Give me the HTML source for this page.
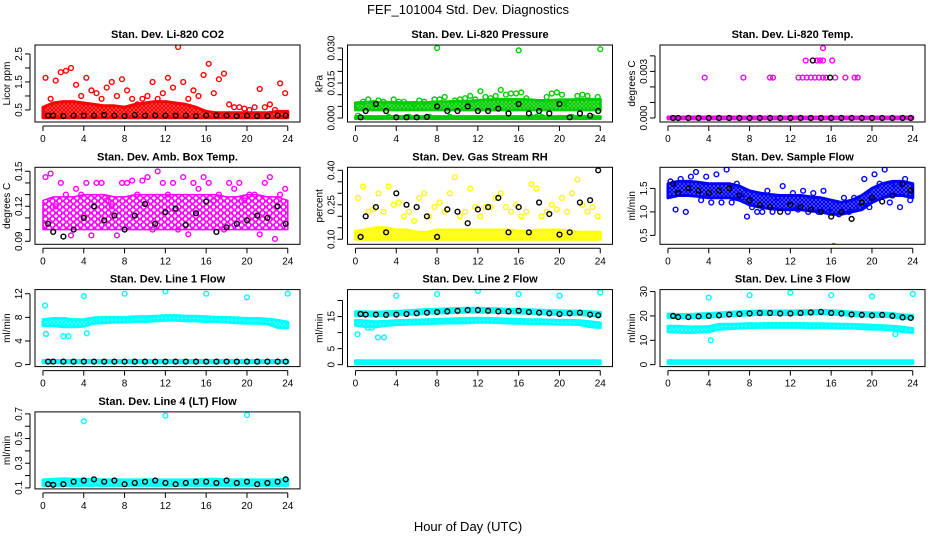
<!DOCTYPE html>
<html><head><meta charset="utf-8"><style>
html,body{margin:0;padding:0;background:#fff}
svg{display:block;font-family:"Liberation Sans",sans-serif}
</style></head><body>
<svg id="c" width="936" height="540" viewBox="0 0 936 540">
<text x="468" y="14" text-anchor="middle" font-size="13">FEF_101004  Std. Dev. Diagnostics</text>
<text x="468" y="531" text-anchor="middle" font-size="13">Hour of Day (UTC)</text>
</svg>
<script>
const hours25=[0,1,2,3,4,5,6,7,8,9,10,11,12,13,14,15,16,17,18,19,20,21,22,23,24];
const halfHours=[0.25,0.75,1.25,1.75,2.25,2.75,3.25,3.75,4.25,4.75,5.25,5.75,6.25,6.75,7.25,7.75,8.25,8.75,9.25,9.75,10.25,10.75,11.25,11.75,12.25,12.75,13.25,13.75,14.25,14.75,15.25,15.75,16.25,16.75,17.25,17.75,18.25,18.75,19.25,19.75,20.25,20.75,21.25,21.75,22.25,22.75,23.25,23.75];
const blackX=[0.5,1,2,3,4,5,6,7,8,9,10,11,12,13,14,15,16,17,18,19,20,21,22,23,23.8];
const xTicks=[0,4,8,12,16,20,24];

// CO2
const co2BandLo=[0.22,0.22,0.22,0.22,0.22,0.22,0.22,0.22,0.22,0.22,0.22,0.22,0.22,0.22,0.22,0.22,0.22,0.22,0.22,0.22,0.22,0.22,0.22,0.22,0.22];
const co2BandHi=[0.6,0.75,0.8,0.8,0.75,0.7,0.65,0.65,0.6,0.7,0.75,0.8,0.8,0.75,0.7,0.6,0.45,0.4,0.4,0.4,0.4,0.4,0.4,0.45,0.45];
const co2Scatter=[1.65,0.9,1.55,1.85,1.9,2.0,1.4,1.0,1.65,1.2,1.1,0.9,1.3,1.5,1.0,1.6,1.2,0.9,0.7,0.9,1.0,1.5,0.9,1.1,1.65,1.3,2.75,1.5,0.9,1.2,1.0,1.75,2.15,1.1,1.6,1.8,0.7,0.6,0.6,0.55,0.5,0.6,1.25,0.6,0.7,0.5,1.45,1.1];
const co2Black=[0.3,0.3,0.28,0.3,0.3,0.3,0.32,0.3,0.28,0.32,0.3,0.31,0.3,0.3,0.3,0.28,0.3,0.31,0.3,0.28,0.3,0.28,0.28,0.3,0.3];
// Pressure
const presBandLo=[0.0035,0.0035,0.0035,0.0035,0.0035,0.0035,0.0035,0.0035,0.0035,0.0035,0.0035,0.0035,0.0035,0.0035,0.0035,0.0035,0.0035,0.0035,0.0035,0.0035,0.0035,0.0035,0.0035,0.0035,0.0035];
const presBandHi=[0.0065,0.0068,0.0068,0.0068,0.0066,0.0066,0.0066,0.0066,0.007,0.007,0.0072,0.0072,0.0075,0.0078,0.008,0.008,0.008,0.0078,0.0075,0.0075,0.0078,0.0078,0.008,0.008,0.008];
const presZeroLo=[-0.0002,-0.0002,-0.0002,-0.0002,-0.0002,-0.0002,-0.0002,-0.0002,-0.0002,-0.0002,-0.0002,-0.0002,-0.0002,-0.0002,-0.0002,-0.0002,-0.0002,-0.0002,-0.0002,-0.0002,-0.0002,-0.0002,-0.0002,-0.0002,-0.0002];
const presZeroHi=[0.0006,0.0006,0.0006,0.0006,0.0006,0.0006,0.0006,0.0006,0.0006,0.0006,0.0006,0.0006,0.0006,0.0006,0.0006,0.0006,0.0006,0.0006,0.0006,0.0006,0.0006,0.0006,0.0006,0.0006,0.0006];
const presScatter=[0.001,0.007,0.008,0.0065,0.0075,0.007,0.0005,0.008,0.007,0.007,0.0005,0.006,0.0075,0.007,0.0005,0.008,0.008,0.009,0.0005,0.0075,0.008,0.0085,0.0095,0.008,0.0115,0.009,0.0085,0.0095,0.012,0.010,0.0105,0.0105,0.011,0.0085,0.0005,0.0005,0.0005,0.009,0.0105,0.011,0.010,0.006,0.0005,0.0095,0.010,0.0095,0.0005,0.009];
const presBlack=[0.0003,0.003,0.006,0.003,0.0003,0.0003,0.0003,0.0005,0.005,0.003,0.003,0.005,0.003,0.003,0.004,0.002,0.006,0.002,0.003,0.002,0.006,0.0003,0.002,0.001,0.003];
const presOutX=[8,16,24];
const presOutY=[0.030,0.029,0.0295];
// Li-820 temp
const tempZeroLo=[-0.00006,-0.00006,-0.00006,-0.00006,-0.00006,-0.00006,-0.00006,-0.00006,-0.00006,-0.00006,-0.00006,-0.00006,-0.00006,-0.00006,-0.00006,-0.00006,-0.00006,-0.00006,-0.00006,-0.00006,-0.00006,-0.00006,-0.00006,-0.00006,-0.00006];
const tempZeroHi=[0.00006,0.00006,0.00006,0.00006,0.00006,0.00006,0.00006,0.00006,0.00006,0.00006,0.00006,0.00006,0.00006,0.00006,0.00006,0.00006,0.00006,0.00006,0.00006,0.00006,0.00006,0.00006,0.00006,0.00006,0.00006];
const tempOutX=[3.6,7.4,10,10.3,12.8,13.2,13.6,14,14.4,14.8,15.2,15.5,16.4,17.4,18.3,18.6,13.5,14.6,14.9,15.2,16.1,15.2];
const tempOutY=[0.0026,0.0026,0.0026,0.0026,0.0026,0.0026,0.0026,0.0026,0.0026,0.0026,0.0026,0.0026,0.0026,0.0026,0.0026,0.0026,0.0037,0.0037,0.0037,0.0037,0.0037,0.0045];
const tempBlack=[0,0,0,0,0,0,0,0,0,0,0,0,0,0,0,0,0,0,0,0,0,0,0,0,0];
const tempBlackExtraX=[14.2,15.9];
const tempBlackExtraY=[0.0037,0.0026];
// Amb box temp
const ambBandLo=[0.1,0.1,0.1,0.1,0.1,0.1,0.1,0.1,0.1,0.1,0.1,0.1,0.1,0.1,0.1,0.1,0.1,0.1,0.1,0.1,0.1,0.1,0.1,0.1,0.1];
const ambBandHi=[0.125,0.128,0.128,0.128,0.13,0.13,0.13,0.128,0.128,0.13,0.13,0.13,0.13,0.13,0.13,0.13,0.13,0.13,0.128,0.128,0.13,0.13,0.128,0.128,0.125];
const ambScatter=[0.145,0.148,0.12,0.14,0.13,0.095,0.135,0.13,0.14,0.095,0.14,0.14,0.125,0.12,0.095,0.14,0.14,0.142,0.13,0.142,0.145,0.1,0.15,0.14,0.13,0.14,0.1,0.145,0.096,0.14,0.135,0.145,0.14,0.125,0.13,0.1,0.14,0.135,0.14,0.125,0.13,0.13,0.096,0.14,0.145,0.092,0.13,0.135];
const ambBlack=[0.105,0.098,0.094,0.1,0.11,0.12,0.108,0.112,0.1,0.112,0.122,0.105,0.115,0.118,0.104,0.114,0.124,0.098,0.102,0.105,0.108,0.112,0.11,0.12,0.105];
// RH
const rhBandLo=[0.1,0.1,0.1,0.1,0.1,0.1,0.1,0.1,0.1,0.1,0.1,0.1,0.1,0.1,0.1,0.1,0.1,0.1,0.1,0.1,0.1,0.1,0.1,0.1,0.1];
const rhBandHi=[0.135,0.14,0.15,0.15,0.14,0.14,0.13,0.13,0.14,0.14,0.14,0.14,0.14,0.14,0.14,0.14,0.135,0.135,0.14,0.14,0.14,0.135,0.13,0.13,0.13];
const rhScatter=[0.28,0.33,0.22,0.23,0.3,0.22,0.33,0.25,0.26,0.2,0.22,0.18,0.28,0.3,0.2,0.24,0.26,0.22,0.3,0.37,0.2,0.22,0.32,0.24,0.2,0.24,0.24,0.28,0.3,0.24,0.22,0.25,0.2,0.22,0.34,0.32,0.2,0.22,0.25,0.23,0.28,0.22,0.3,0.36,0.25,0.22,0.24,0.2];
const rhBlack=[0.11,0.2,0.24,0.13,0.3,0.25,0.24,0.2,0.11,0.23,0.22,0.17,0.23,0.24,0.28,0.13,0.24,0.13,0.26,0.21,0.12,0.13,0.26,0.27,0.4];
// Sample flow
const flowBandLo=[1.3,1.35,1.35,1.33,1.3,1.3,1.3,1.25,1.15,1.1,1.07,1.05,1.05,1.05,1.02,1.0,0.95,0.95,1.0,1.05,1.2,1.3,1.35,1.35,1.3];
const flowBandHi=[1.6,1.65,1.65,1.63,1.6,1.6,1.6,1.55,1.45,1.4,1.37,1.35,1.35,1.35,1.32,1.3,1.25,1.2,1.25,1.35,1.5,1.6,1.65,1.65,1.6];
const flowScatter=[1.65,1.05,1.7,1.0,1.75,1.85,1.25,1.75,1.2,1.8,1.2,1.9,1.2,1.6,1.3,0.9,1.1,1.0,1.0,1.45,1.0,1.3,1.55,1.0,1.4,1.05,1.45,1.0,1.4,1.0,1.45,1.0,0.27,0.95,1.3,1.0,1.3,1.1,1.7,1.1,1.8,1.6,1.9,1.2,1.6,1.1,1.7,1.25];
const flowBlack=[1.6,1.4,1.5,1.45,1.4,1.45,1.5,1.35,1.25,1.15,1.1,1.0,1.15,1.1,1.05,1.0,0.9,1.0,0.85,1.2,1.3,1.22,1.35,1.6,1.45];
// Line 1
const l1BandLo=[6.6,6.6,6.4,6.4,6.5,7.0,7.1,7.2,7.2,7.3,7.3,7.4,7.5,7.5,7.4,7.4,7.3,7.3,7.2,7.1,7.0,7.0,6.9,6.3,6.2];
const l1BandHi=[7.6,7.8,7.8,7.6,7.6,7.9,8.0,8.0,8.0,8.1,8.1,8.2,8.3,8.3,8.2,8.2,8.1,8.0,8.0,7.9,7.8,7.8,7.7,7.5,7.2];
const l1ZeroLo=[0.3,0.3,0.3,0.3,0.3,0.3,0.3,0.3,0.3,0.3,0.3,0.3,0.3,0.3,0.3,0.3,0.3,0.3,0.3,0.3,0.3,0.3,0.3,0.3,0.3];
const l1ZeroHi=[0.7,0.7,0.7,0.7,0.7,0.7,0.7,0.7,0.7,0.7,0.7,0.7,0.7,0.7,0.7,0.7,0.7,0.7,0.7,0.7,0.7,0.7,0.7,0.7,0.7];
const l1OutX=[0.2,4,8,12,16,20,24,0.3,2,2.5,4.3];
const l1OutY=[10,11.6,12,12.4,12,11.4,12,5.2,4.8,4.8,5.3];
const l1Black=[0.5,0.5,0.5,0.5,0.5,0.5,0.5,0.5,0.5,0.5,0.5,0.5,0.5,0.5,0.5,0.5,0.5,0.5,0.5,0.5,0.5,0.5,0.5,0.5,0.5];
// Line 2
const l2TopLo=[15.3,15.3,15.3,15.4,15.5,15.6,15.8,16,16.1,16.2,16.3,16.4,16.4,16.4,16.3,16.2,16.1,16,15.9,15.8,15.6,15.6,15.6,15.4,15.2];
const l2TopHi=[16.5,16.5,16.4,16.5,16.6,16.8,17,17.2,17.3,17.4,17.5,17.6,17.6,17.5,17.4,17.3,17.3,17.1,17,16.9,16.8,16.7,16.7,16.5,16.3];
const l2MidLo=[12.3,11.8,11.8,12.2,12.5,12.6,12.7,12.8,12.9,13,13,13.1,13.2,13.2,13.1,13,12.9,12.8,12.8,12.7,12.6,12.6,12.5,11.8,11.6];
const l2MidHi=[13.8,13.6,13.4,13.5,13.7,13.8,13.9,14,14.1,14.2,14.3,14.4,14.5,14.4,14.3,14.2,14.1,14,14,13.9,13.8,13.8,13.7,13.4,13];
const l2ZeroLo=[0.3,0.3,0.3,0.3,0.3,0.3,0.3,0.3,0.3,0.3,0.3,0.3,0.3,0.3,0.3,0.3,0.3,0.3,0.3,0.3,0.3,0.3,0.3,0.3,0.3];
const l2ZeroHi=[1.2,1.2,1.2,1.2,1.2,1.2,1.2,1.2,1.2,1.2,1.2,1.2,1.2,1.2,1.2,1.2,1.2,1.2,1.2,1.2,1.2,1.2,1.2,1.2,1.2];
const l2OutX=[4,8,12,16,20,24,0.2,1.2,1.6,2.2,2.8];
const l2OutY=[21.5,22,23,22,21.5,22.5,9.5,11.5,11.5,8.5,8.5];
const l2Black=[15.8,15.6,15.6,15.5,15.6,15.8,16,16.2,16.4,16.6,16.8,17,17,16.8,16.6,16.6,16.8,16.4,16.2,16,15.8,16,16.2,15.6,15.4];
// Line 3
const l3TopLo=[19.3,19.2,19.2,19.3,19.5,19.7,20,20.2,20.4,20.6,20.6,20.6,20.6,20.7,20.8,20.9,20.7,20.5,20.2,20,19.8,19.8,19.6,19,18.8];
const l3TopHi=[20.8,20.6,20.6,20.8,21,21.2,21.5,21.7,21.9,22,22,22,22,22.1,22.2,22.3,22.1,21.9,21.6,21.4,21.2,21.2,21,20.4,20.2];
const l3MidLo=[13.5,13.3,13.2,13.3,13.5,14.5,14.8,15,15.2,15.3,15.3,15.3,15.3,15.3,15.2,15.2,15.1,15,15,14.8,14.6,14.5,14.2,13.6,13.2];
const l3MidHi=[15.8,15.8,15.5,15.5,15.6,16.5,16.6,16.7,16.8,16.8,16.9,16.9,16.9,16.9,16.8,16.8,16.7,16.6,16.5,16.4,16.2,16,15.8,15.4,14.8];
const l3ZeroLo=[0.5,0.5,0.5,0.5,0.5,0.5,0.5,0.5,0.5,0.5,0.5,0.5,0.5,0.5,0.5,0.5,0.5,0.5,0.5,0.5,0.5,0.5,0.5,0.5,0.5];
const l3ZeroHi=[1.6,1.6,1.6,1.6,1.6,1.6,1.6,1.6,1.6,1.6,1.6,1.6,1.6,1.6,1.6,1.6,1.6,1.6,1.6,1.6,1.6,1.6,1.6,1.6,1.6];
const l3OutX=[4,8,12,16,20,24,4.2,22.3];
const l3OutY=[27.5,28.5,29.5,28.5,28,29,10,12.5];
const l3Black=[20,19.5,19.5,19.8,20,20.2,20.6,20.8,21,21.2,21.2,21,21,21.2,21.4,21.6,21.2,21,20.6,20.4,20.2,20.4,20,19.4,19.2];
// Line 4
const l4BandLo=[0.12,0.12,0.12,0.12,0.12,0.12,0.12,0.12,0.12,0.12,0.12,0.12,0.12,0.12,0.12,0.12,0.12,0.12,0.12,0.12,0.12,0.12,0.12,0.12,0.12];
const l4BandHi=[0.165,0.17,0.175,0.17,0.17,0.17,0.165,0.165,0.165,0.165,0.165,0.165,0.165,0.165,0.165,0.165,0.17,0.17,0.165,0.165,0.165,0.165,0.165,0.165,0.17];
const l4OutX=[4,12,20];
const l4OutY=[0.64,0.685,0.69];
const l4Black=[0.13,0.125,0.13,0.15,0.16,0.17,0.15,0.16,0.13,0.14,0.15,0.16,0.14,0.13,0.14,0.15,0.15,0.14,0.16,0.14,0.15,0.13,0.14,0.15,0.17];

const RED='#ff0000',GRN='#00cd00',MAG='#ff00ff',YEL='#ffff00',BLU='#0000ff',CYN='#00ffff';
const panels=[
 {name:'co2',title:'Stan. Dev. Li-820 CO2',ylab:'Licor ppm',col:0,row:0,color:RED,ymin:0.07,ymax:2.82,
  ticks:[0.5,1,1.5,2,2.5],labels:['0.5','','1.5','','2.5'],bands:[[co2BandLo,co2BandHi]],sx:halfHours,sy:co2Scatter,black:co2Black},
 {name:'pressure',title:'Stan. Dev. Li-820 Pressure',ylab:'kPa',col:1,row:0,color:GRN,ymin:-0.0017,ymax:0.0313,
  ticks:[0,0.005,0.01,0.015,0.02,0.025,0.03],labels:['0.000','','','0.015','','','0.030'],bands:[[presZeroLo,presZeroHi],[presBandLo,presBandHi]],sx:halfHours,sy:presScatter,ox:presOutX,oy:presOutY,black:presBlack},
 {name:'li820-temp',title:'Stan. Dev. Li-820 Temp.',ylab:'degrees C',col:2,row:0,color:MAG,ymin:-0.00026,ymax:0.0047,
  ticks:[0,0.001,0.002,0.003,0.004],labels:['0.000','','','0.003',''],bands:[[tempZeroLo,tempZeroHi]],ox:tempOutX,oy:tempOutY,black:tempBlack,bx:tempBlackExtraX,by:tempBlackExtraY},
 {name:'amb-box-temp',title:'Stan. Dev. Amb. Box Temp.',ylab:'degrees C',col:0,row:1,color:MAG,ymin:0.0874,ymax:0.1534,
  ticks:[0.09,0.1,0.11,0.12,0.13,0.14,0.15],labels:['0.09','','','0.12','','','0.15'],bands:[[ambBandLo,ambBandHi]],sparse:true,sx:halfHours,sy:ambScatter,black:ambBlack},
 {name:'gas-stream-rh',title:'Stan. Dev. Gas Stream RH',ylab:'percent',col:1,row:1,color:YEL,ymin:0.078,ymax:0.413,
  ticks:[0.1,0.15,0.2,0.25,0.3,0.35,0.4],labels:['0.10','','','0.25','','','0.40'],bands:[[rhBandLo,rhBandHi]],sx:halfHours,sy:rhScatter,black:rhBlack},
 {name:'sample-flow',title:'Stan. Dev. Sample Flow',ylab:'ml/min',col:2,row:1,color:BLU,ymin:0.31,ymax:1.95,
  ticks:[0.5,1,1.5],labels:['0.5','1.0','1.5'],bands:[[flowBandLo,flowBandHi]],sx:halfHours,sy:flowScatter,black:flowBlack},
 {name:'line1-flow',title:'Stan. Dev. Line 1 Flow',ylab:'ml/min',col:0,row:2,color:CYN,ymin:-0.34,ymax:12.7,
  ticks:[0,4,8,12],labels:['0','4','8','12'],bands:[[l1ZeroLo,l1ZeroHi],[l1BandLo,l1BandHi]],ox:l1OutX,oy:l1OutY,black:l1Black},
 {name:'line2-flow',title:'Stan. Dev. Line 2 Flow',ylab:'ml/min',col:1,row:2,color:CYN,ymin:-0.6,ymax:23.4,
  ticks:[0,5,10,15,20],labels:['0','5','','15',''],bands:[[l2ZeroLo,l2ZeroHi],[l2MidLo,l2MidHi],[l2TopLo,l2TopHi]],ox:l2OutX,oy:l2OutY,black:l2Black},
 {name:'line3-flow',title:'Stan. Dev. Line 3 Flow',ylab:'ml/min',col:2,row:2,color:CYN,ymin:-0.8,ymax:30.8,
  ticks:[0,10,20,30],labels:['0','10','20','30'],bands:[[l3ZeroLo,l3ZeroHi],[l3MidLo,l3MidHi],[l3TopLo,l3TopHi]],ox:l3OutX,oy:l3OutY,black:l3Black},
 {name:'line4-flow',title:'Stan. Dev. Line 4 (LT) Flow',ylab:'ml/min',col:0,row:3,color:CYN,ymin:0.092,ymax:0.716,
  ticks:[0.1,0.2,0.3,0.4,0.5,0.6,0.7],labels:['0.1','','0.3','','0.5','','0.7'],bands:[[l4BandLo,l4BandHi]],ox:l4OutX,oy:l4OutY,black:l4Black}
];

const NS='http://www.w3.org/2000/svg';
const svg=document.getElementById('c');
function mk(tag,attrs,parent){const e=document.createElementNS(NS,tag);for(const k in attrs)e.setAttribute(k,attrs[k]);parent.appendChild(e);return e;}
const defs=mk('defs',{},svg);
function circ(g,x,y,color,nm){
  const c=mk('circle',{cx:x.toFixed(1),cy:y.toFixed(1),r:2.4,fill:'none',stroke:color,'stroke-width':1.4},g);
  
  
}
panels.forEach(p=>{
  const L=35+p.col*312.5,R=L+265,T=45+p.row*122.3,B=T+77;
  const xs=h=>L+(h+0.78)/25.98*(R-L);
  const ys=v=>B-(v-p.ymin)/(p.ymax-p.ymin)*(B-T);
  // texture pattern of overlapping open circles
  const pid='pat-'+p.name;
  const pw=p.sparse?7:4, ph=p.sparse?6:4;
  const pat=mk('pattern',{id:pid,width:pw,height:ph,patternUnits:'userSpaceOnUse'},defs);
  mk('rect',{x:0,y:0,width:pw,height:ph,fill:'#fff'},pat);
  mk('circle',{cx:pw/2,cy:ph/2,r:p.sparse?2.3:1.6,fill:'none',stroke:p.color,'stroke-width':p.sparse?1.4:1.5},pat);
  mk('circle',{cx:0,cy:0,r:p.sparse?2.3:1.6,fill:'none',stroke:p.color,'stroke-width':p.sparse?1.4:1.5},pat);
  mk('circle',{cx:pw,cy:0,r:p.sparse?2.3:1.6,fill:'none',stroke:p.color,'stroke-width':p.sparse?1.4:1.5},pat);
  mk('circle',{cx:0,cy:ph,r:p.sparse?2.3:1.6,fill:'none',stroke:p.color,'stroke-width':p.sparse?1.4:1.5},pat);
  mk('circle',{cx:pw,cy:ph,r:p.sparse?2.3:1.6,fill:'none',stroke:p.color,'stroke-width':p.sparse?1.4:1.5},pat);

  const g=mk('g',{},svg);
  
  
  const t=mk('text',{x:(L+R)/2,y:T-7,'text-anchor':'middle','font-size':11,'font-weight':'bold'},g);t.textContent=p.title;
  
  
  const cp='clip-'+p.name;
  const cl=mk('clipPath',{id:cp},g);mk('rect',{x:L,y:T,width:R-L,height:B-T},cl);
  const marks=mk('g',{'clip-path':'url(#'+cp+')'},g);
  
  
  (p.bands||[]).forEach((bd,bi)=>{
    const lo=bd[0],hi=bd[1];
    let d='';
    hours25.forEach((h,i)=>{d+=(i?'L':'M')+xs(h).toFixed(1)+','+ys(hi[i]).toFixed(1);});
    for(let i=hours25.length-1;i>=0;i--)d+='L'+xs(hours25[i]).toFixed(1)+','+ys(lo[i]).toFixed(1);
    d+='Z';
    const pa=mk('path',{d:d,fill:'url(#'+pid+')',stroke:p.color,'stroke-width':p.sparse?1.5:3,'stroke-linejoin':'round'},marks);
    
    
  });
  if(p.sx)p.sx.forEach((h,i)=>circ(marks,xs(h),ys(p.sy[i]),p.color,p.name+'-point'));
  if(p.ox)p.ox.forEach((h,i)=>circ(marks,xs(h),ys(p.oy[i]),p.color,p.name+'-outlier'));
  p.black.forEach((v,i)=>circ(marks,xs(blackX[i]),ys(v),'#000',p.name+'-mean-point'));
  if(p.bx)p.bx.forEach((h,i)=>circ(marks,xs(h),ys(p.by[i]),'#000',p.name+'-mean-point'));
  const box=mk('rect',{x:L,y:T,width:R-L,height:B-T,fill:'none',stroke:'#000','stroke-width':1},g);
  
  
  const xa=mk('g',{},g);
  
  
  const ay=B+4;
  mk('line',{x1:xs(0),x2:xs(24),y1:ay,y2:ay,stroke:'#000'},xa);
  xTicks.forEach(h=>{
    mk('line',{x1:xs(h),x2:xs(h),y1:ay,y2:ay+5,stroke:'#000'},xa);
    const tx=mk('text',{x:xs(h),y:ay+16,'text-anchor':'middle','font-size':10},xa);tx.textContent=h;
  });
  const ya=mk('g',{},g);
  
  
  const ax=L-5;
  mk('line',{x1:ax,x2:ax,y1:ys(p.ticks[0]),y2:ys(p.ticks[p.ticks.length-1]),stroke:'#000'},ya);
  p.ticks.forEach((v,i)=>{
    const y=ys(v);
    mk('line',{x1:ax,x2:ax-5,y1:y,y2:y,stroke:'#000'},ya);
    if(p.labels[i]){const tx=mk('text',{x:ax-8,y:y,'text-anchor':'middle','font-size':10,transform:'rotate(-90 '+(ax-8)+' '+y+')'},ya);tx.textContent=p.labels[i];}
  });
  const yl=mk('text',{x:L-25,y:(T+B)/2,'text-anchor':'middle','font-size':10,transform:'rotate(-90 '+(L-25)+' '+((T+B)/2)+')'},g);
  yl.textContent=p.ylab;
  
  
});
</script>
</body></html>
